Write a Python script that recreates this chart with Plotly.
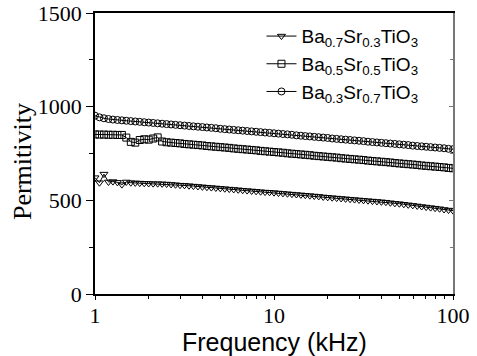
import plotly.graph_objects as go

FREQ_KHZ = [1, 1.059, 1.122, 1.189, 1.259, 1.334, 1.413, 1.496, 1.585, 1.679,
            1.778, 1.884, 1.995, 2.113, 2.239, 2.371, 2.512, 2.661, 2.818, 2.985,
            3.162, 3.350, 3.548, 3.758, 3.981, 4.217, 4.467, 4.732, 5.012, 5.309,
            5.623, 5.957, 6.310, 6.683, 7.079, 7.499, 7.943, 8.414, 8.913, 9.441,
            10, 10.59, 11.22, 11.89, 12.59, 13.34, 14.13, 14.96, 15.85, 16.79,
            17.78, 18.84, 19.95, 21.13, 22.39, 23.71, 25.12, 26.61, 28.18, 29.85,
            31.62, 33.50, 35.48, 37.58, 39.81, 42.17, 44.67, 47.32, 50.12, 53.09,
            56.23, 59.57, 63.10, 66.83, 70.79, 74.99, 79.43, 84.14, 89.13, 94.41, 100]

BA07 = [621, 594, 640, 598, 600, 596, 584, 598, 594, 593,
        592, 591, 590, 589, 589, 588, 587, 585, 583, 581,
        580, 578, 576, 574, 572, 570, 568, 566, 564, 562,
        560, 558, 556, 554, 552, 550, 548, 546, 544, 543,
        541, 539, 537, 535, 533, 531, 529, 527, 525, 523,
        521, 518, 516, 514, 512, 510, 508, 506, 504, 502,
        500, 498, 496, 494, 492, 490, 487, 484, 482, 479,
        476, 473, 470, 467, 464, 461, 458, 455, 451, 448, 445]

BA05 = [852, 851, 851, 850, 850, 849, 849, 835, 812, 808,
        822, 826, 824, 830, 836, 814, 810, 808, 806, 804,
        801, 799, 797, 795, 793, 790, 788, 786, 784, 782,
        780, 777, 775, 773, 771, 769, 767, 764, 762, 760,
        758, 756, 754, 751, 749, 747, 745, 743, 741, 738,
        736, 734, 732, 730, 728, 725, 723, 721, 719, 717,
        715, 712, 710, 708, 706, 704, 702, 699, 697, 695,
        693, 691, 689, 686, 684, 682, 680, 678, 676, 673, 671]

BA03 = [952, 943, 938, 934, 931, 929, 927, 925, 923, 921,
        919, 917, 915, 913, 911, 909, 907, 905, 903, 901,
        899, 897, 895, 893, 891, 889, 887, 885, 882, 880,
        878, 876, 874, 872, 870, 868, 866, 864, 862, 860,
        858, 856, 854, 852, 850, 847, 845, 843, 841, 839,
        837, 835, 833, 830, 828, 826, 824, 822, 820, 818,
        816, 813, 811, 809, 807, 805, 803, 801, 799, 797,
        795, 792, 790, 788, 786, 784, 782, 780, 778, 775, 773]

NAMES = ["Ba<sub>0.7</sub>Sr<sub>0.3</sub>TiO<sub>3</sub>",
         "Ba<sub>0.5</sub>Sr<sub>0.5</sub>TiO<sub>3</sub>",
         "Ba<sub>0.3</sub>Sr<sub>0.7</sub>TiO<sub>3</sub>"]
SYMBOLS = ["triangle-down-open", "square-open", "circle-open"]
SERIES = [BA07, BA05, BA03]

X_TICKS = [1, 10, 100]
X_MINOR = [2, 3, 4, 5, 6, 7, 8, 9, 20, 30, 40, 50, 60, 70, 80, 90]
Y_TICKS = [0, 500, 1000, 1500]
X_TITLE = "Frequency (kHz)"
Y_TITLE = "Permitivity"

fig = go.Figure()
for name, sym, vals in zip(NAMES, SYMBOLS, SERIES):
    fig.add_trace(go.Scatter(
        x=FREQ_KHZ, y=vals, name=name, mode="lines+markers",
        line=dict(color="black", width=1),
        marker=dict(symbol=sym, size=7, color="black", line=dict(width=1, color="black")),
    ))
fig.add_trace(go.Scatter(x=[], y=[], yaxis="y2", showlegend=False, hoverinfo="skip"))

serif = "Liberation Serif, Times New Roman, serif"
sans = "Liberation Sans, Arial, sans-serif"

fig.update_layout(
    width=477, height=356,
    margin=dict(l=95, r=24, t=13, b=62, autoexpand=False),
    paper_bgcolor="white", plot_bgcolor="white",
    showlegend=True,
    legend=dict(x=0.465, y=0.985, xanchor="left", yanchor="top",
                font=dict(family=sans, size=19, color="black"),
                bgcolor="rgba(0,0,0,0)", tracegroupgap=0, itemwidth=30),
    xaxis=dict(type="log", range=[0, 2], tickvals=X_TICKS, ticktext=["1", "10", "100"],
               automargin=False, ticklabelstandoff=-3,
               ticks="outside", ticklen=4, tickwidth=1, tickcolor="black",
               showline=True, linecolor="black", linewidth=1.5, mirror=True,
               showgrid=False, zeroline=False,
               tickfont=dict(family=serif, size=22, color="black"),
               minor=dict(tickvals=X_MINOR, ticks="outside", ticklen=3, tickcolor="black", showgrid=False)),
    yaxis=dict(range=[0, 1500], tickvals=Y_TICKS, automargin=False,
               ticks="outside", ticklen=7, tickwidth=1, tickcolor="black",
               showline=True, linecolor="black", linewidth=1.5,
               showgrid=False, zeroline=False,
               tickfont=dict(family=serif, size=22, color="black"),
               minor=dict(dtick=250, ticks="outside", ticklen=4, tickcolor="black", showgrid=False)),
    yaxis2=dict(range=[0, 1500], overlaying="y", side="right", tickvals=Y_TICKS,
                automargin=False,
                showticklabels=False, ticks="inside", ticklen=4, tickcolor="#777777",
                showline=True, linecolor="#777777", linewidth=1.5,
                showgrid=False, zeroline=False,
                minor=dict(dtick=250, ticks="inside", ticklen=3, tickcolor="#777777", showgrid=False)),
    annotations=[
        dict(text=X_TITLE, xref="paper", yref="paper", x=0.5, y=-0.172,
             xanchor="center", yanchor="middle", showarrow=False,
             font=dict(family=sans, size=25, color="black")),
        dict(text=Y_TITLE, xref="paper", yref="paper", x=-0.204, y=0.473,
             xanchor="center", yanchor="middle", showarrow=False, textangle=-90,
             font=dict(family=serif, size=26, color="black")),
    ],
)

fig.write_html("out.html", config={"displayModeBar": False},
               post_script="document.body.style.margin='0';document.body.style.padding='0';")
